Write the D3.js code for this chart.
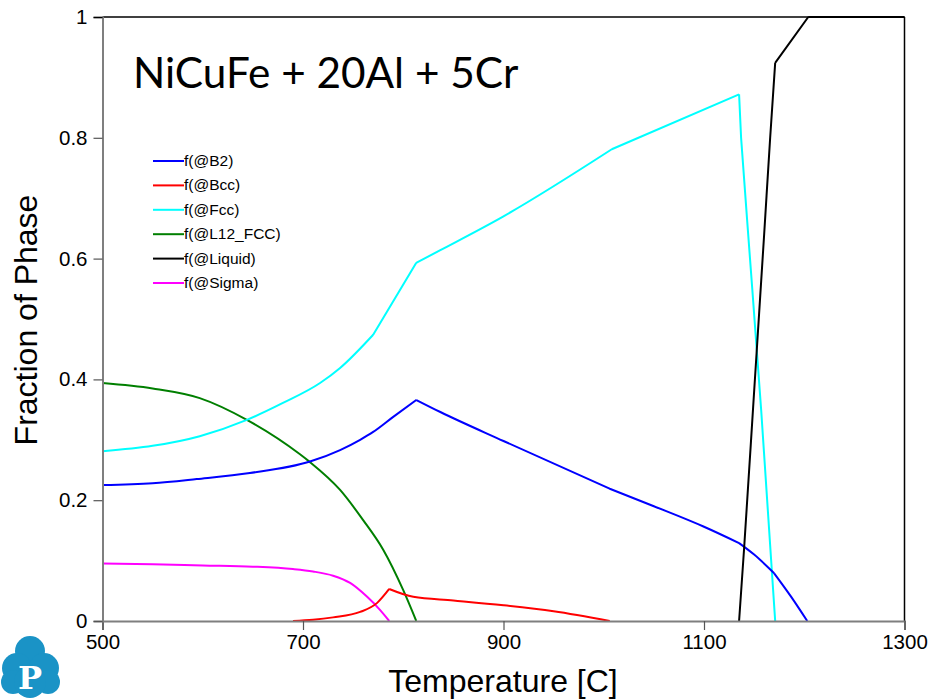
<!DOCTYPE html>
<html><head><meta charset="utf-8">
<script src="https://cdn.jsdelivr.net/npm/d3@7"></script>
<style>body{margin:0;background:#fff}svg{display:block}</style>
</head><body>
<script>
const title = "NiCuFe + 20Al + 5Cr";
const xTicks = [500, 700, 900, 1100, 1300];
const yTicks = [0, 0.2, 0.4, 0.6, 0.8, 1];
const seriesNames = ["f(@B2)", "f(@Bcc)", "f(@Fcc)", "f(@L12_FCC)", "f(@Liquid)", "f(@Sigma)"];
const seriesColors = ["#0000ff", "#ff0000", "#00ffff", "#007f00", "#000000", "#ff00ff"];

const b2T = [500, 550, 594, 647, 707, 737, 757, 770, 790, 813, 837, 900, 1006, 1050, 1100, 1135, 1150, 1170, 1187, 1203];
const b2F = [0.225, 0.228, 0.235, 0.245, 0.264, 0.283, 0.300, 0.313, 0.338, 0.366, 0.346, 0.298, 0.219, 0.190, 0.156, 0.129, 0.110, 0.079, 0.040, 0];
const bccT = [690, 710, 730, 757, 774, 786, 810, 850, 900, 950, 1006];
const bccF = [0, 0.002, 0.006, 0.015, 0.030, 0.053, 0.040, 0.034, 0.026, 0.016, 0];
const fccT = [500, 550, 597, 644, 680, 717, 737, 770, 813, 837, 900, 1008, 1135, 1137, 1143, 1157, 1171];
const fccF = [0.281, 0.290, 0.306, 0.333, 0.361, 0.394, 0.419, 0.474, 0.593, 0.614, 0.670, 0.781, 0.872, 0.800, 0.664, 0.350, 0];
const l12T = [500, 550, 597, 644, 697, 707, 737, 760, 780, 800, 813];
const l12F = [0.394, 0.385, 0.369, 0.333, 0.276, 0.263, 0.217, 0.167, 0.118, 0.051, 0];
const liqT = [1135, 1140, 1150, 1160, 1166, 1171, 1204, 1300];
const liqF = [0, 0.12, 0.38, 0.64, 0.80, 0.924, 1, 1];
const sigT = [500, 550, 600, 650, 690, 710, 730, 747, 764, 777, 786];
const sigF = [0.095, 0.094, 0.092, 0.090, 0.086, 0.082, 0.075, 0.063, 0.040, 0.018, 0];

// temperatures where a curve has a sharp corner
const b2Kinks = [813, 1006, 1135, 1170];
const bccKinks = [786];
const fccKinks = [770, 813, 1008, 1135, 1137];
const l12Kinks = [];
const liqKinks = [1171, 1204];
const sigKinks = [];

const seriesT = [b2T, bccT, fccT, l12T, liqT, sigT];
const seriesF = [b2F, bccF, fccF, l12F, liqF, sigF];
const seriesKinks = [b2Kinks, bccKinks, fccKinks, l12Kinks, liqKinks, sigKinks];

const W = 929, H = 700;
const svg = d3.select("body").append("svg").attr("width", W).attr("height", H);
const x = d3.scaleLinear().domain([500, 1300]).range([102.5, 904.5]);
const y = d3.scaleLinear().domain([0, 1]).range([621, 17]);

// border top/right
svg.append("line").attr("x1", x(500)).attr("x2", x(1300)).attr("y1", y(1)).attr("y2", y(1))
  .attr("stroke", "#000").attr("stroke-width", 1.5);
svg.append("line").attr("x1", x(1300)).attr("x2", x(1300)).attr("y1", y(1)).attr("y2", y(0))
  .attr("stroke", "#000").attr("stroke-width", 1.5);

// series: smooth between corners, sharp at corners
const line = d3.line().x(d => x(d[0])).y(d => y(d[1])).curve(d3.curveMonotoneX);
const order = [3, 5, 1, 2, 0, 4];
order.forEach(i => {
  const pts = seriesT[i].map((t, k) => [t, seriesF[i][k]]);
  const segs = [];
  let cur = [];
  pts.forEach(p => {
    cur.push(p);
    if (seriesKinks[i].includes(p[0])) { segs.push(cur); cur = [p]; }
  });
  if (cur.length > 1) segs.push(cur);
  const d = segs.map(s => line(s)).join("");
  svg.append("path").attr("d", d).attr("fill", "none")
    .attr("stroke", seriesColors[i]).attr("stroke-width", 2).attr("stroke-linejoin", "round");
});

// axes
const xAxis = d3.axisBottom(x).tickValues(xTicks).tickSize(9).tickPadding(4).tickFormat(d3.format("d"));
const gx = svg.append("g").attr("transform", `translate(0,${y(0)})`).call(xAxis);
const yAxis = d3.axisLeft(y).tickValues(yTicks).tickSize(9).tickPadding(6).tickFormat(d => d === 0 ? "0" : d === 1 ? "1" : d3.format(".1f")(d));
const gy = svg.append("g").attr("transform", `translate(${x(500)},0)`).call(yAxis);
[gx, gy].forEach(g => {
  g.select(".domain").attr("stroke", "#7f7f7f").attr("stroke-width", 2);
  g.selectAll(".tick line").attr("stroke", "#555").attr("stroke-width", 1.2);
  g.selectAll("text").attr("font-family", "Liberation Sans, Arial, sans-serif").attr("font-size", 20.5).attr("fill", "#000");
});
gy.selectAll(".tick").filter(d => d === 1).select("line").attr("stroke", "#000");

// title
svg.append("text").attr("x", 133).attr("y", 88).attr("font-family", "Lato, 'Open Sans', sans-serif")
  .attr("font-size", 42.3).attr("fill", "#000").text(title);

// axis titles
svg.append("text").attr("x", 503).attr("y", 692).attr("text-anchor", "middle")
  .attr("font-family", "Liberation Sans, Arial, sans-serif").attr("font-size", 32).text("Temperature [C]");
svg.append("text").attr("transform", "translate(37,320) rotate(-90)").attr("text-anchor", "middle")
  .attr("font-family", "Liberation Sans, Arial, sans-serif").attr("font-size", 32).text("Fraction of Phase");

// legend
const lg = svg.append("g");
seriesNames.forEach((n, i) => {
  const yy = 161 + i * 24.4;
  lg.append("line").attr("x1", 153).attr("x2", 184).attr("y1", yy).attr("y2", yy)
    .attr("stroke", seriesColors[i]).attr("stroke-width", 2);
  lg.append("text").attr("x", 184).attr("y", yy + 5).attr("font-family", "Liberation Sans, Arial, sans-serif")
    .attr("font-size", 15.5).text(n);
});

// logo
const logo = svg.append("g").attr("fill", "#1a93c6");
[[30, 651, 15], [17, 668, 15], [44, 668, 15], [13, 682, 12], [48, 682, 12], [30, 682, 16]].forEach(c => {
  logo.append("circle").attr("cx", c[0]).attr("cy", c[1]).attr("r", c[2]);
});
svg.append("text").attr("x", 30).attr("y", 689).attr("text-anchor", "middle")
  .attr("font-family", "DejaVu Serif, serif").attr("font-weight", "bold").attr("font-size", 32)
  .attr("fill", "#fff").text("P");
</script>
</body></html>
